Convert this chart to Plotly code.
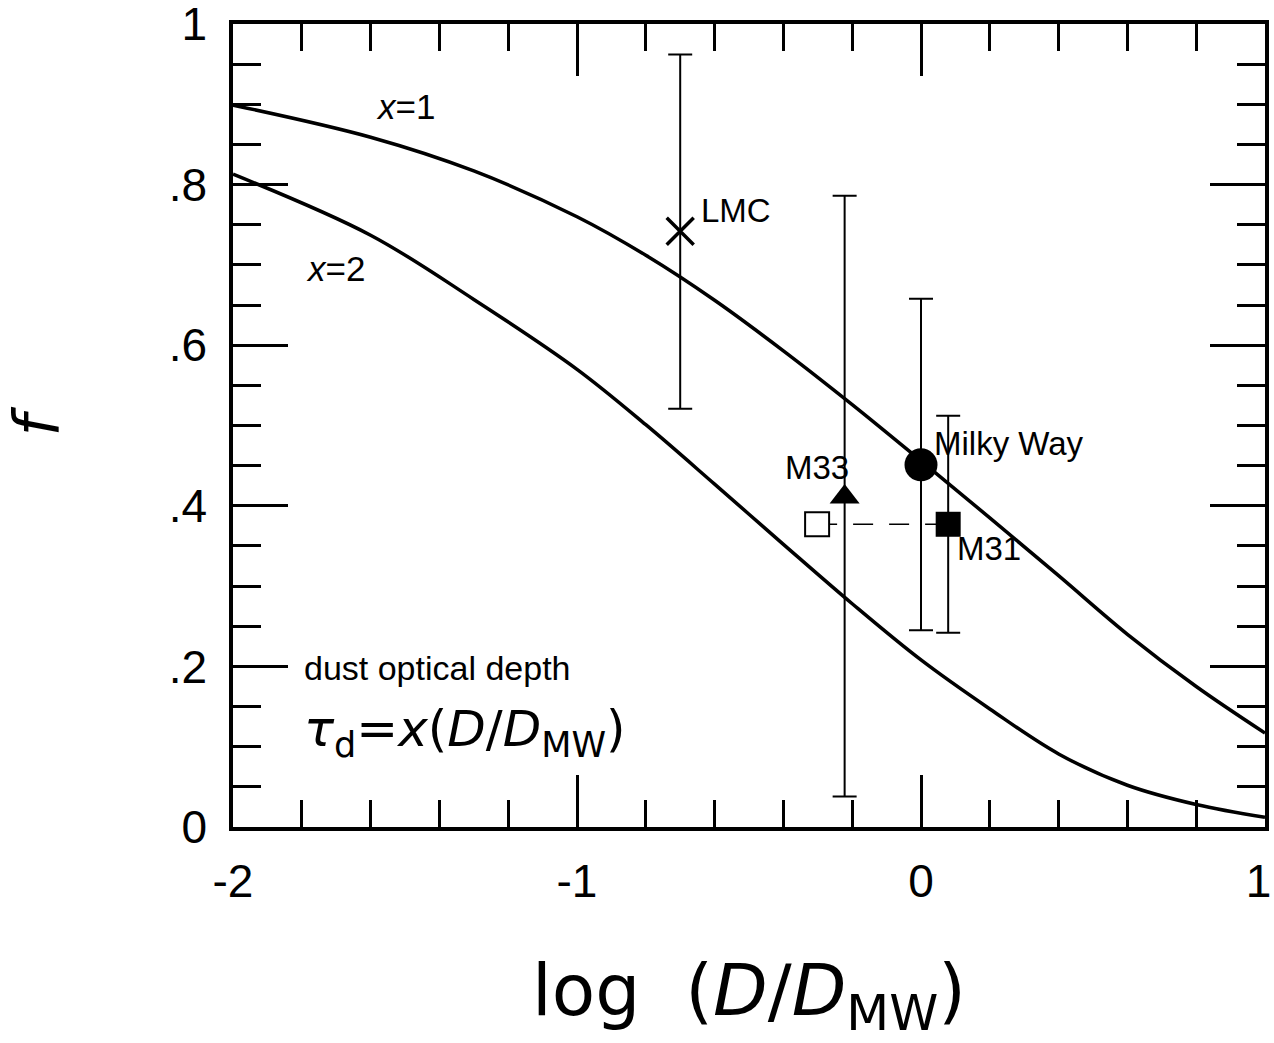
import plotly.graph_objects as go

# ---- data ----
logd_curve = [-2.0, -1.6, -1.3, -1.0, -0.8, -0.6, -0.4, -0.2, 0.0, 0.2, 0.4, 0.6, 0.8, 1.0]
f_x1 = [0.899, 0.859, 0.817, 0.760, 0.712, 0.656, 0.593, 0.526, 0.456, 0.385, 0.313, 0.240, 0.175, 0.117]
f_x2 = [0.813, 0.737, 0.657, 0.570, 0.501, 0.427, 0.352, 0.278, 0.208, 0.147, 0.091, 0.052, 0.028, 0.012]

gal_names = ["LMC", "M33", "Milky Way", "M31"]
gal_logd = [-0.700, -0.222, 0.000, 0.079]
gal_f = [0.742, 0.411, 0.451, 0.377]
gal_f_hi = [0.962, 0.786, 0.658, 0.512]
gal_f_lo = [0.521, 0.038, 0.245, 0.242]

alt_m31_logd = [-0.302]
alt_m31_f = [0.377]

ytick_vals = [0, 0.2, 0.4, 0.6, 0.8, 1.0]
ytick_text = ["0", ".2", ".4", ".6", ".8", "1"]
xtick_vals = [-2, -1, 0, 1]
xtick_text = ["-2", "-1", "0", "1\u00a0"]

BLACK = "#000000"
fig = go.Figure()

# model curves
for fy in (f_x1, f_x2):
    fig.add_trace(go.Scatter(x=logd_curve, y=fy, mode="lines",
                             line=dict(color=BLACK, width=3.5, shape="spline", smoothing=1.0),
                             hoverinfo="skip", showlegend=False))

# dashed connector from alternative M31 value to M31
fig.add_trace(go.Scatter(x=[alt_m31_logd[0], gal_logd[3]], y=[alt_m31_f[0], gal_f[3]],
                         mode="lines", line=dict(color=BLACK, width=1.5, dash="20px,16px"),
                         showlegend=False, hoverinfo="skip"))

# error bars + markers
symbols = ["x-thin", "triangle-up", "circle", "square"]
sizes = [27, 26, 33, 25]
for i in range(4):
    fig.add_trace(go.Scatter(
        x=[gal_logd[i]], y=[gal_f[i]], mode="markers",
        marker=dict(symbol=symbols[i], size=sizes[i], color=BLACK,
                    line=dict(color=BLACK, width=3.5 if i == 0 else 0)),
        error_y=dict(type="data", symmetric=False,
                     array=[gal_f_hi[i] - gal_f[i]], arrayminus=[gal_f[i] - gal_f_lo[i]],
                     color=BLACK, thickness=2, width=12),
        showlegend=False, name=gal_names[i]))

fig.add_trace(go.Scatter(x=alt_m31_logd, y=alt_m31_f, mode="markers",
                         marker=dict(symbol="square", size=24, color="white",
                                     line=dict(color=BLACK, width=2)),
                         showlegend=False))

lab_family = "Liberation Sans, Arial, sans-serif"
ann = [
    dict(x=-1.591, y=0.897, text="<i>x</i>=1", xanchor="left", size=35),
    dict(x=-1.795, y=0.696, text="<i>x</i>=2", xanchor="left", size=35),
    dict(x=-0.646, y=0.768, text="LMC", xanchor="left", size=33),
    dict(x=-0.303, y=0.448, text="M33", xanchor="center", size=33),
    dict(x=0.031, y=0.477, text="Milky Way", xanchor="left", size=33),
    dict(x=0.100, y=0.347, text="M31", xanchor="left", size=33),
    dict(x=-1.80, y=0.198, text="dust optical depth", xanchor="left", size=34),
]
for a in ann:
    fig.add_annotation(x=a["x"], y=a["y"], text=a["text"], xanchor=a["xanchor"],
                       yanchor="middle", showarrow=False,
                       font=dict(family=lab_family, size=a["size"], color=BLACK))

fig.add_annotation(x=-1.80, y=0.118, xanchor="left", yanchor="middle", showarrow=False,
                   text="<i>τ</i><sub>d</sub>=<i>x</i>(<i>D</i>/<i>D</i><sub>MW</sub>)",
                   font=dict(family="DejaVu Sans, sans-serif", size=50, color=BLACK))

axis_common = dict(showline=True, linecolor=BLACK, linewidth=3.5, mirror="ticks",
                   ticks="inside", tickcolor=BLACK, tickwidth=3,
                   showgrid=False, zeroline=False, ticklabeloverflow="allow",
                   tickfont=dict(family=lab_family, size=46, color=BLACK))

fig.update_xaxes(range=[-2, 1], tickmode="array", tickvals=xtick_vals, ticktext=xtick_text,
                 ticklen=52, ticklabelstandoff=11,
                 minor=dict(dtick=0.2, tick0=0, ticks="inside", ticklen=27, tickwidth=3, tickcolor=BLACK),
                 title=dict(text="log  (<i>D</i>/<i>D</i><sub>MW</sub>)", standoff=60,
                            font=dict(family="DejaVu Sans, sans-serif", size=71, color=BLACK)),
                 **axis_common)
fig.update_yaxes(range=[0, 1], tickmode="array", tickvals=ytick_vals, ticktext=ytick_text,
                 ticklen=55, ticklabelstandoff=13,
                 minor=dict(dtick=0.05, tick0=0, ticks="inside", ticklen=28, tickwidth=3, tickcolor=BLACK),
                 title=dict(text="<i>f</i>", standoff=92,
                            font=dict(family="DejaVu Sans, sans-serif", size=62, color=BLACK)),
                 **axis_common)

fig.update_layout(width=1274, height=1043, plot_bgcolor="white", paper_bgcolor="white",
                  margin=dict(l=233, r=9, t=24, b=216, autoexpand=False),
                  showlegend=False)

fig.write_html("out.html", config={"displayModeBar": False},
               post_script="document.body.style.margin='0';")
